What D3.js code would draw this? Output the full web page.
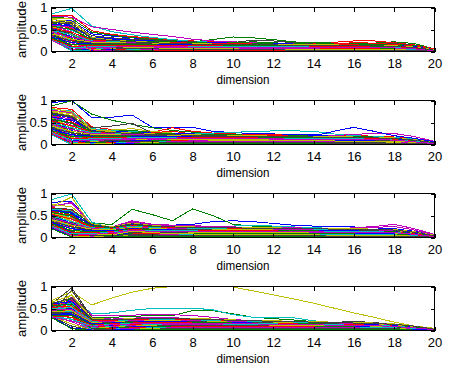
<!DOCTYPE html>
<html><head><meta charset="utf-8">
<script src="https://cdn.jsdelivr.net/npm/d3@7"></script>
<style>
body{margin:0;background:#fff}
svg text{font-family:"Liberation Sans",Arial,sans-serif;fill:#000}
</style>
</head><body>
<svg id="chart" width="452" height="368"></svg>
<script>
const dimensions=[1,2,3,4,5,6,7,8,9,10,11,12,13,14,15,16,17,18,19,20];
const xTicks=[2,4,6,8,10,12,14,16,18,20];
const yTicks=[0,0.5,1];
const yTickLabels=["0","0.5","1"];
const xLabel="dimension", yLabel="amplitude";
const colorOrder=["#0000ff","#008000","#ff0000","#00bfbf","#bf00bf","#bfbf00","#404040"];

const panel1=[
[.72,.70,.40,.35,.31,.27,.24,.21,.19,.18,.17,.16,.15,.14,.14,.13,.13,.12,.09,.04],
[.78,.75,.44,.37,.32,.28,.25,.22,.27,.33,.31,.27,.22,.19,.18,.18,.19,.22,.18,.06],
[.82,.82,.47,.39,.34,.30,.27,.24,.22,.21,.20,.19,.18,.19,.21,.24,.24,.20,.15,.06],
[.85,.98,.58,.45,.38,.32,.27,.23,.21,.19,.18,.17,.16,.15,.15,.14,.13,.12,.10,.05],
[.80,.78,.56,.50,.44,.39,.34,.28,.24,.22,.20,.19,.18,.17,.16,.16,.15,.14,.11,.05],
[.76,.74,.30,.28,.27,.25,.22,.20,.18,.17,.18,.16,.15,.14,.14,.13,.13,.12,.09,.04],
[.69,.66,.36,.31,.28,.26,.24,.22,.20,.20,.26,.24,.20,.17,.15,.16,.17,.18,.14,.05],
[.67,.60,.33,.29,.26,.24,.22,.20,.19,.18,.17,.16,.15,.14,.13,.12,.12,.11,.09,.03],
[.65,.56,.25,.26,.25,.22,.20,.19,.18,.20,.22,.20,.17,.21,.19,.16,.15,.16,.13,.05],
[.63,.52,.22,.24,.23,.22,.21,.20,.19,.18,.17,.16,.15,.14,.17,.20,.19,.16,.12,.05],
[.61,.48,.28,.22,.21,.20,.19,.18,.17,.17,.16,.15,.14,.14,.13,.13,.12,.12,.10,.04],
[.59,.45,.20,.21,.20,.19,.18,.17,.16,.15,.15,.16,.17,.16,.15,.14,.13,.13,.11,.04],
[.57,.40,.15,.18,.19,.18,.17,.16,.16,.15,.14,.14,.13,.13,.12,.12,.11,.11,.08,.03],
[.55,.37,.12,.16,.17,.17,.16,.15,.15,.14,.14,.13,.13,.12,.12,.12,.12,.11,.09,.03],
[.54,.33,.10,.13,.15,.16,.15,.15,.14,.13,.13,.12,.12,.11,.11,.10,.10,.10,.08,.03],
[.52,.30,.08,.12,.14,.15,.15,.14,.13,.13,.12,.12,.11,.11,.10,.10,.11,.12,.10,.04],
[.50,.27,.06,.10,.13,.14,.14,.13,.12,.12,.12,.11,.11,.10,.12,.14,.13,.11,.08,.03],
[.49,.24,.05,.08,.11,.13,.13,.12,.12,.11,.11,.10,.10,.10,.09,.09,.09,.08,.07,.03],
[.47,.20,.04,.07,.10,.12,.12,.11,.11,.10,.10,.10,.09,.09,.09,.09,.08,.08,.06,.02],
[.46,.16,.03,.06,.09,.10,.11,.10,.10,.10,.09,.09,.09,.08,.08,.08,.08,.07,.06,.02],
[.44,.12,.02,.05,.08,.09,.10,.10,.09,.09,.09,.08,.08,.08,.08,.07,.07,.07,.05,.02],
[.42,.09,.02,.04,.07,.08,.09,.09,.09,.08,.08,.08,.07,.07,.07,.07,.06,.06,.05,.02],
[.41,.06,.01,.03,.06,.07,.08,.08,.08,.08,.07,.07,.07,.07,.06,.06,.06,.06,.05,.02],
[.39,.04,.01,.03,.05,.06,.07,.08,.07,.07,.07,.07,.06,.06,.06,.06,.06,.05,.04,.02],
[.38,.02,.01,.02,.04,.05,.06,.07,.07,.06,.06,.06,.06,.06,.05,.05,.05,.05,.04,.01],
[.36,.01,.01,.02,.03,.04,.05,.06,.06,.06,.06,.05,.05,.05,.05,.05,.05,.04,.03,.01],
[.34,.01,.01,.01,.02,.03,.04,.05,.05,.05,.05,.05,.05,.04,.04,.04,.04,.04,.03,.01],
[.33,.01,0,.01,.02,.03,.03,.04,.04,.04,.04,.04,.04,.04,.04,.03,.03,.03,.02,.01],
[.31,.01,0,.01,.01,.02,.03,.03,.03,.03,.03,.03,.03,.03,.03,.03,.03,.03,.02,.01],
[.30,.01,0,0,.01,.02,.02,.02,.03,.03,.03,.03,.03,.02,.02,.02,.02,.02,.02,.01],
[.28,.01,0,0,.01,.01,.02,.02,.02,.02,.02,.02,.02,.02,.02,.02,.02,.02,.01,.01],
[.27,.01,0,0,0,.01,.01,.01,.01,.01,.01,.01,.01,.01,.01,.01,.01,.01,.01,0],
[.60,.55,.18,.14,.12,.10,.09,.08,.08,.07,.07,.06,.06,.06,.05,.05,.05,.04,.03,.01],
[.70,.62,.16,.11,.09,.08,.07,.06,.06,.06,.05,.05,.05,.05,.04,.04,.04,.04,.03,.01],
[.50,.42,.14,.09,.07,.06,.05,.05,.04,.04,.04,.04,.03,.03,.03,.03,.03,.03,.02,.01],
[.62,.58,.30,.27,.25,.23,.22,.21,.20,.19,.18,.18,.17,.17,.16,.16,.15,.14,.11,.04],
[.58,.50,.27,.25,.24,.23,.22,.20,.19,.18,.18,.17,.17,.16,.16,.15,.15,.14,.10,.04],
[.54,.44,.26,.24,.22,.21,.20,.19,.18,.18,.17,.17,.16,.16,.15,.15,.14,.13,.10,.04],
[.48,.38,.24,.22,.21,.20,.19,.18,.17,.17,.16,.16,.15,.15,.14,.14,.14,.13,.09,.03],
[.44,.32,.23,.21,.20,.19,.18,.17,.16,.16,.16,.15,.15,.14,.14,.13,.13,.12,.09,.03],
[.40,.28,.21,.20,.19,.18,.17,.16,.16,.15,.15,.15,.14,.14,.13,.13,.13,.12,.08,.03],
[.36,.24,.19,.18,.18,.17,.16,.16,.15,.15,.14,.14,.14,.13,.13,.12,.12,.11,.08,.03],
[.33,.20,.17,.17,.16,.16,.15,.15,.14,.14,.14,.13,.13,.13,.12,.12,.11,.11,.08,.03],
[.30,.16,.15,.15,.15,.15,.14,.14,.14,.13,.13,.13,.12,.12,.12,.11,.11,.10,.07,.02],
[.28,.12,.13,.14,.14,.13,.13,.13,.13,.12,.12,.12,.12,.11,.11,.11,.10,.10,.07,.02],
[.26,.08,.11,.12,.12,.12,.12,.12,.11,.11,.11,.11,.11,.10,.10,.10,.10,.09,.06,.02],
[.25,.05,.09,.10,.11,.11,.11,.10,.10,.10,.10,.10,.10,.09,.09,.09,.09,.08,.06,.02],
[.73,.68,.32,.26,.23,.21,.19,.18,.17,.17,.16,.16,.15,.15,.15,.14,.14,.13,.10,.04],
[.66,.63,.29,.25,.22,.20,.18,.17,.16,.16,.15,.15,.14,.14,.14,.13,.13,.12,.09,.03]
];
const panel2=[
[.95,1.0,.61,.62,.67,.39,.39,.39,.30,.27,.25,.24,.22,.22,.21,.20,.19,.17,.13,.06],
[.88,.99,.69,.55,.46,.38,.32,.28,.25,.22,.20,.19,.18,.17,.17,.16,.16,.15,.12,.06],
[.84,.80,.40,.34,.30,.28,.38,.30,.26,.24,.23,.22,.21,.20,.20,.20,.19,.17,.13,.06],
[.80,.76,.36,.32,.30,.27,.26,.25,.26,.28,.29,.31,.31,.30,.24,.20,.18,.16,.12,.05],
[.78,.72,.34,.30,.28,.26,.24,.23,.22,.21,.20,.19,.19,.18,.20,.23,.25,.25,.18,.07],
[.74,.66,.32,.33,.36,.30,.26,.24,.22,.21,.20,.19,.18,.17,.17,.16,.15,.14,.11,.05],
[.72,.64,.38,.42,.48,.26,.24,.22,.21,.20,.19,.18,.18,.17,.16,.16,.15,.14,.10,.05],
[.70,.60,.30,.28,.27,.25,.23,.22,.20,.19,.18,.17,.16,.19,.30,.39,.30,.20,.14,.06],
[.68,.56,.28,.30,.32,.27,.25,.23,.21,.20,.19,.18,.17,.16,.15,.15,.14,.13,.10,.04],
[.66,.52,.26,.25,.26,.27,.30,.24,.22,.21,.20,.19,.18,.17,.16,.15,.14,.13,.10,.04],
[.64,.48,.24,.22,.22,.21,.20,.19,.19,.18,.17,.16,.16,.15,.15,.14,.14,.13,.10,.04],
[.62,.44,.22,.21,.20,.20,.19,.18,.17,.17,.16,.16,.15,.15,.14,.14,.13,.12,.09,.04],
[.60,.40,.18,.20,.22,.21,.20,.19,.18,.17,.16,.15,.15,.14,.14,.13,.13,.12,.09,.03],
[.58,.36,.16,.18,.19,.18,.17,.17,.16,.16,.15,.15,.14,.14,.13,.13,.12,.11,.08,.03],
[.56,.32,.14,.16,.18,.17,.17,.16,.16,.15,.15,.14,.14,.13,.13,.12,.12,.11,.08,.03],
[.54,.28,.12,.14,.16,.16,.16,.15,.15,.15,.14,.14,.13,.13,.12,.12,.11,.10,.08,.03],
[.52,.25,.10,.13,.15,.15,.15,.15,.14,.14,.14,.13,.13,.12,.12,.11,.11,.10,.07,.03],
[.50,.22,.08,.11,.13,.14,.14,.14,.13,.13,.13,.12,.12,.12,.11,.11,.10,.09,.07,.03],
[.48,.19,.07,.10,.12,.13,.13,.13,.12,.12,.12,.11,.11,.11,.10,.10,.10,.09,.06,.02],
[.46,.16,.06,.08,.10,.11,.12,.12,.11,.11,.11,.10,.10,.10,.10,.09,.09,.08,.06,.02],
[.44,.13,.05,.07,.09,.10,.11,.11,.10,.10,.10,.10,.09,.09,.09,.09,.08,.08,.06,.02],
[.42,.10,.04,.06,.08,.09,.10,.10,.10,.09,.09,.09,.09,.08,.08,.08,.08,.07,.05,.02],
[.40,.08,.03,.05,.07,.08,.09,.09,.09,.09,.08,.08,.08,.08,.07,.07,.07,.07,.05,.02],
[.38,.06,.02,.04,.06,.07,.08,.08,.08,.08,.08,.07,.07,.07,.07,.07,.06,.06,.04,.02],
[.36,.04,.02,.03,.05,.06,.07,.07,.07,.07,.07,.07,.06,.06,.06,.06,.06,.05,.04,.01],
[.34,.03,.01,.02,.04,.05,.06,.06,.06,.06,.06,.06,.06,.05,.05,.05,.05,.05,.03,.01],
[.32,.02,.01,.02,.03,.04,.05,.05,.05,.05,.05,.05,.05,.05,.05,.04,.04,.04,.03,.01],
[.30,.01,.01,.01,.02,.03,.04,.04,.04,.04,.04,.04,.04,.04,.04,.04,.04,.03,.02,.01],
[.28,.01,0,.01,.02,.02,.03,.03,.03,.03,.03,.03,.03,.03,.03,.03,.03,.03,.02,.01],
[.26,.01,0,.01,.01,.02,.02,.02,.02,.02,.02,.02,.02,.02,.02,.02,.02,.02,.01,.01],
[.24,.01,0,0,.01,.01,.01,.01,.01,.01,.01,.01,.01,.01,.01,.01,.01,.01,.01,0],
[.22,0,0,0,0,.01,.01,.01,.01,.01,.01,.01,.01,.01,.01,.01,.01,.01,0,0],
[.65,.58,.20,.16,.14,.12,.11,.10,.09,.09,.08,.08,.08,.07,.07,.07,.06,.06,.05,.02],
[.76,.70,.24,.19,.16,.14,.12,.11,.10,.10,.09,.09,.08,.08,.08,.07,.07,.07,.05,.02],
[.57,.50,.12,.09,.07,.06,.05,.05,.05,.04,.04,.04,.04,.04,.03,.03,.03,.03,.02,.01],
[.62,.55,.32,.30,.28,.26,.25,.24,.23,.22,.21,.21,.20,.20,.19,.18,.17,.15,.11,.04],
[.58,.48,.30,.28,.27,.25,.24,.23,.22,.22,.21,.20,.20,.19,.18,.18,.17,.15,.11,.04],
[.54,.42,.28,.27,.26,.24,.23,.22,.21,.21,.20,.20,.19,.19,.18,.17,.16,.14,.10,.04],
[.50,.38,.27,.25,.24,.23,.22,.21,.20,.20,.19,.19,.18,.18,.17,.17,.16,.14,.10,.04],
[.46,.34,.25,.24,.23,.22,.21,.20,.19,.19,.19,.18,.18,.17,.17,.16,.15,.13,.09,.03],
[.42,.30,.23,.22,.21,.21,.20,.19,.19,.18,.18,.17,.17,.17,.16,.16,.15,.13,.09,.03],
[.38,.26,.21,.21,.20,.20,.19,.18,.18,.17,.17,.17,.16,.16,.16,.15,.14,.12,.08,.03],
[.35,.22,.19,.19,.19,.18,.18,.17,.17,.17,.16,.16,.16,.15,.15,.14,.14,.12,.08,.03],
[.32,.18,.17,.18,.17,.17,.17,.16,.16,.16,.15,.15,.15,.15,.14,.14,.13,.11,.08,.03],
[.29,.14,.15,.16,.16,.16,.16,.15,.15,.15,.15,.14,.14,.14,.14,.13,.13,.11,.07,.02],
[.27,.10,.13,.14,.15,.15,.15,.14,.14,.14,.14,.14,.13,.13,.13,.13,.12,.10,.07,.02],
[.25,.06,.11,.12,.13,.13,.13,.13,.13,.13,.13,.13,.12,.12,.12,.12,.11,.10,.06,.02],
[.82,.74,.34,.29,.26,.24,.23,.22,.21,.20,.20,.19,.19,.18,.18,.17,.16,.15,.11,.04],
[.71,.62,.31,.27,.25,.23,.22,.21,.20,.19,.19,.18,.18,.17,.17,.16,.15,.14,.10,.04]
];
const panel3=[
[.80,.82,.30,.22,.30,.26,.28,.30,.36,.38,.36,.32,.28,.26,.25,.24,.22,.20,.14,.06],
[.66,.60,.32,.30,.64,.52,.38,.65,.50,.30,.26,.24,.22,.20,.19,.18,.17,.16,.12,.05],
[.68,.62,.22,.20,.30,.25,.22,.24,.22,.21,.20,.20,.19,.18,.18,.17,.17,.16,.12,.05],
[.86,.99,.35,.20,.26,.24,.22,.22,.24,.26,.28,.26,.24,.22,.21,.20,.19,.18,.13,.05],
[.72,.78,.28,.24,.38,.30,.28,.27,.25,.24,.23,.22,.22,.21,.20,.22,.25,.30,.20,.07],
[.70,.92,.25,.18,.34,.28,.26,.25,.24,.23,.22,.21,.20,.20,.19,.18,.17,.16,.12,.05],
[.64,.58,.24,.19,.32,.27,.25,.24,.23,.22,.21,.21,.20,.19,.18,.17,.16,.15,.11,.05],
[.63,.55,.20,.17,.36,.28,.24,.23,.22,.21,.20,.19,.19,.18,.17,.17,.16,.15,.11,.04],
[.62,.52,.18,.16,.30,.26,.23,.22,.21,.20,.19,.19,.18,.17,.17,.16,.16,.15,.11,.04],
[.60,.48,.16,.15,.28,.24,.22,.21,.20,.19,.19,.18,.18,.17,.16,.16,.15,.14,.10,.04],
[.58,.45,.15,.14,.32,.25,.21,.20,.19,.19,.18,.18,.17,.17,.16,.15,.15,.14,.10,.04],
[.56,.42,.14,.13,.35,.24,.20,.19,.18,.18,.17,.17,.16,.16,.15,.15,.14,.13,.10,.04],
[.54,.38,.13,.12,.25,.22,.19,.18,.17,.17,.17,.16,.16,.15,.15,.14,.14,.13,.09,.03],
[.52,.35,.12,.11,.24,.21,.18,.17,.17,.16,.16,.15,.15,.15,.14,.14,.13,.12,.09,.03],
[.50,.32,.11,.10,.22,.20,.17,.16,.16,.16,.15,.15,.14,.14,.14,.13,.13,.12,.08,.03],
[.48,.29,.10,.09,.20,.18,.16,.15,.15,.15,.14,.14,.14,.13,.13,.13,.12,.11,.08,.03],
[.46,.26,.09,.08,.18,.17,.15,.14,.14,.14,.14,.13,.13,.13,.12,.12,.11,.11,.08,.03],
[.44,.23,.08,.07,.17,.16,.14,.13,.13,.13,.13,.13,.12,.12,.12,.11,.11,.10,.07,.03],
[.42,.20,.07,.07,.15,.14,.13,.12,.12,.12,.12,.12,.11,.11,.11,.11,.10,.10,.07,.02],
[.40,.17,.06,.06,.13,.13,.12,.11,.11,.11,.11,.11,.11,.10,.10,.10,.10,.09,.06,.02],
[.38,.14,.05,.05,.12,.12,.11,.10,.10,.10,.10,.10,.10,.10,.09,.09,.09,.08,.06,.02],
[.36,.11,.04,.05,.10,.10,.10,.09,.09,.09,.09,.09,.09,.09,.09,.08,.08,.08,.05,.02],
[.34,.08,.03,.04,.09,.09,.09,.08,.08,.08,.08,.08,.08,.08,.08,.08,.07,.07,.05,.02],
[.32,.06,.03,.03,.08,.08,.08,.07,.07,.07,.07,.07,.07,.07,.07,.07,.07,.06,.04,.02],
[.30,.04,.02,.03,.07,.07,.07,.06,.06,.06,.06,.06,.06,.06,.06,.06,.06,.06,.04,.01],
[.28,.03,.02,.02,.06,.06,.06,.05,.05,.05,.05,.05,.05,.05,.05,.05,.05,.05,.03,.01],
[.26,.02,.01,.02,.05,.05,.05,.05,.05,.05,.05,.05,.05,.05,.05,.04,.04,.04,.03,.01],
[.24,.01,.01,.01,.04,.04,.04,.04,.04,.04,.04,.04,.04,.04,.04,.04,.04,.03,.02,.01],
[.22,.01,.01,.01,.03,.03,.03,.03,.03,.03,.03,.03,.03,.03,.03,.03,.03,.03,.02,.01],
[.20,.01,0,.01,.02,.02,.02,.02,.02,.02,.02,.02,.02,.02,.02,.02,.02,.02,.01,.01],
[.58,.50,.20,.12,.26,.22,.20,.18,.17,.17,.16,.16,.15,.15,.14,.14,.13,.12,.09,.03],
[.65,.60,.26,.18,.33,.27,.24,.22,.21,.20,.20,.19,.18,.18,.17,.16,.15,.14,.10,.04],
[.70,.80,.30,.22,.36,.29,.26,.25,.24,.23,.23,.22,.21,.21,.20,.21,.23,.25,.17,.05],
[.55,.44,.10,.06,.14,.11,.09,.08,.07,.07,.07,.06,.06,.06,.05,.05,.05,.05,.03,.01],
[.45,.30,.04,.03,.08,.06,.05,.05,.05,.04,.04,.04,.04,.04,.03,.03,.03,.03,.02,.01],
[.62,.56,.28,.22,.30,.25,.24,.23,.22,.22,.21,.21,.20,.20,.19,.19,.18,.17,.12,.04],
[.57,.48,.26,.21,.28,.24,.23,.22,.21,.21,.20,.20,.19,.19,.18,.18,.17,.16,.12,.04],
[.53,.42,.24,.20,.27,.23,.22,.21,.20,.20,.20,.19,.19,.18,.18,.17,.17,.16,.11,.04],
[.49,.36,.22,.19,.26,.22,.21,.20,.20,.19,.19,.19,.18,.18,.17,.17,.16,.15,.11,.04],
[.45,.32,.20,.18,.24,.21,.20,.19,.19,.19,.18,.18,.18,.17,.17,.16,.16,.15,.10,.03],
[.41,.28,.19,.17,.23,.20,.19,.19,.18,.18,.18,.17,.17,.17,.16,.16,.15,.14,.10,.03],
[.37,.24,.17,.16,.21,.19,.18,.18,.17,.17,.17,.17,.16,.16,.16,.15,.15,.14,.09,.03],
[.34,.20,.15,.15,.20,.18,.17,.17,.17,.16,.16,.16,.16,.15,.15,.15,.14,.13,.09,.03],
[.31,.16,.13,.14,.19,.17,.17,.16,.16,.16,.16,.15,.15,.15,.14,.14,.14,.13,.08,.03],
[.28,.12,.11,.13,.18,.16,.16,.15,.15,.15,.15,.15,.14,.14,.14,.14,.13,.12,.08,.02],
[.26,.08,.09,.12,.17,.15,.15,.15,.14,.14,.14,.14,.14,.13,.13,.13,.13,.12,.07,.02],
[.24,.05,.07,.11,.16,.14,.14,.14,.14,.13,.13,.13,.13,.13,.12,.12,.12,.11,.07,.02],
[.75,.70,.31,.24,.33,.27,.25,.24,.23,.23,.22,.22,.21,.21,.20,.20,.19,.18,.13,.05],
[.67,.64,.29,.23,.31,.26,.24,.23,.22,.22,.21,.21,.20,.20,.19,.19,.18,.17,.12,.04]
];
const panel4=[
[.62,.70,.20,.22,.26,.28,.28,.26,.24,.22,.20,.18,.17,.16,.15,.14,.13,.12,.08,.03],
[.58,.72,.30,.30,.32,.34,.34,.45,.45,.38,.30,.27,.24,.20,.17,.15,.14,.12,.08,.03],
[.56,.66,.18,.20,.25,.27,.26,.25,.24,.22,.21,.20,.19,.18,.17,.16,.15,.13,.09,.03],
[.55,.75,.38,.40,.46,.50,.50,.51,.47,.36,.30,.30,.29,.22,.18,.16,.14,.12,.08,.03],
[.52,.76,.35,.35,.35,.36,.36,.34,.30,.25,.22,.20,.18,.17,.16,.15,.14,.13,.09,.03],
[.68,.88,.58,.74,.87,.96,1.0,1.0,1.0,.99,.90,.81,.72,.62,.51,.40,.30,.19,.10,.05],
[.60,.97,.30,.22,.25,.26,.26,.25,.24,.23,.22,.21,.20,.19,.18,.21,.18,.14,.10,.03],
[.54,.64,.16,.18,.22,.24,.24,.23,.22,.20,.19,.18,.17,.16,.15,.14,.13,.12,.08,.03],
[.50,.62,.15,.17,.20,.22,.22,.21,.20,.19,.18,.17,.16,.15,.15,.14,.13,.12,.08,.03],
[.53,.60,.14,.18,.24,.25,.25,.24,.23,.21,.20,.19,.18,.17,.16,.16,.15,.13,.09,.03],
[.48,.58,.13,.15,.18,.20,.21,.20,.19,.18,.17,.16,.15,.15,.14,.13,.12,.11,.08,.02],
[.47,.56,.12,.14,.17,.19,.20,.19,.18,.17,.16,.15,.15,.14,.14,.13,.12,.11,.07,.02],
[.46,.54,.11,.13,.16,.18,.19,.18,.17,.16,.16,.15,.14,.14,.13,.12,.12,.11,.07,.02],
[.45,.52,.10,.12,.15,.17,.18,.18,.17,.16,.15,.14,.14,.13,.13,.12,.11,.10,.07,.02],
[.44,.50,.09,.11,.14,.16,.17,.17,.16,.15,.14,.14,.13,.13,.12,.12,.11,.10,.07,.02],
[.43,.48,.08,.10,.13,.15,.16,.16,.15,.14,.14,.13,.13,.12,.12,.11,.11,.10,.06,.02],
[.42,.46,.07,.10,.13,.14,.15,.15,.15,.14,.13,.13,.12,.12,.11,.11,.10,.09,.06,.02],
[.41,.44,.06,.09,.12,.13,.14,.14,.14,.13,.13,.12,.12,.11,.11,.10,.10,.09,.06,.02],
[.40,.42,.05,.08,.11,.12,.13,.13,.13,.12,.12,.12,.11,.11,.10,.10,.09,.09,.06,.02],
[.39,.40,.05,.07,.10,.11,.12,.12,.12,.12,.11,.11,.11,.10,.10,.09,.09,.08,.05,.02],
[.38,.38,.04,.06,.09,.10,.11,.11,.11,.11,.11,.10,.10,.10,.09,.09,.08,.08,.05,.02],
[.37,.36,.03,.05,.08,.09,.10,.10,.10,.10,.10,.10,.09,.09,.09,.08,.08,.07,.05,.01],
[.36,.34,.03,.05,.07,.08,.09,.09,.09,.09,.09,.09,.09,.08,.08,.08,.07,.07,.04,.01],
[.35,.30,.02,.04,.06,.07,.08,.08,.08,.08,.08,.08,.08,.08,.07,.07,.07,.06,.04,.01],
[.34,.25,.02,.03,.05,.06,.07,.07,.07,.07,.07,.07,.07,.07,.07,.06,.06,.06,.04,.01],
[.33,.20,.01,.03,.04,.05,.06,.06,.06,.06,.06,.06,.06,.06,.06,.06,.05,.05,.03,.01],
[.32,.15,.01,.02,.03,.04,.05,.05,.05,.05,.05,.05,.05,.05,.05,.05,.05,.04,.03,.01],
[.31,.10,.01,.02,.03,.03,.04,.04,.04,.04,.04,.04,.04,.04,.04,.04,.04,.04,.02,.01],
[.30,.06,.01,.01,.02,.03,.03,.03,.03,.03,.03,.03,.03,.03,.03,.03,.03,.03,.02,.01],
[.29,.04,0,.01,.01,.02,.02,.02,.02,.02,.02,.02,.02,.02,.02,.02,.02,.02,.01,.01],
[.57,.68,.22,.24,.27,.28,.27,.26,.25,.24,.22,.21,.20,.19,.18,.17,.16,.14,.10,.03],
[.51,.63,.19,.21,.24,.25,.25,.24,.22,.21,.20,.19,.18,.17,.16,.15,.14,.12,.08,.02],
[.49,.70,.28,.26,.28,.30,.29,.27,.25,.23,.21,.20,.19,.18,.17,.16,.15,.14,.10,.03],
[.45,.82,.20,.16,.18,.19,.19,.18,.17,.16,.15,.14,.13,.12,.12,.11,.10,.09,.06,.02],
[.40,.92,.25,.18,.20,.21,.21,.20,.19,.18,.17,.17,.16,.16,.17,.20,.16,.12,.08,.02],
[.60,.66,.26,.24,.26,.27,.27,.26,.25,.24,.22,.21,.20,.19,.18,.17,.16,.14,.10,.03],
[.56,.60,.24,.23,.25,.26,.26,.25,.24,.23,.21,.20,.19,.18,.17,.16,.15,.14,.09,.03],
[.52,.56,.22,.22,.24,.25,.25,.24,.23,.22,.21,.20,.19,.18,.17,.16,.15,.13,.09,.03],
[.49,.52,.21,.21,.23,.24,.24,.23,.22,.21,.20,.19,.18,.17,.16,.15,.14,.13,.09,.03],
[.46,.48,.19,.20,.22,.23,.23,.22,.21,.20,.19,.18,.17,.17,.16,.15,.14,.12,.08,.02],
[.43,.45,.18,.19,.21,.22,.22,.21,.20,.19,.18,.18,.17,.16,.15,.14,.13,.12,.08,.02],
[.40,.42,.16,.18,.20,.21,.21,.20,.19,.18,.18,.17,.16,.16,.15,.14,.13,.11,.07,.02],
[.37,.38,.15,.17,.19,.20,.20,.19,.18,.18,.17,.16,.16,.15,.14,.14,.13,.11,.07,.02],
[.35,.34,.13,.16,.18,.19,.19,.18,.18,.17,.16,.16,.15,.15,.14,.13,.12,.10,.07,.02],
[.33,.30,.12,.15,.17,.18,.18,.17,.17,.16,.16,.15,.15,.14,.13,.13,.12,.10,.06,.02],
[.31,.26,.10,.14,.16,.17,.17,.17,.16,.16,.15,.15,.14,.14,.13,.12,.11,.10,.06,.02],
[.30,.22,.09,.13,.15,.16,.16,.16,.15,.15,.15,.14,.14,.13,.12,.12,.11,.09,.06,.02],
[.64,.80,.28,.25,.27,.28,.28,.27,.26,.24,.23,.22,.21,.20,.19,.18,.17,.15,.10,.03],
[.61,.74,.26,.24,.26,.27,.27,.26,.25,.23,.22,.21,.20,.19,.18,.17,.16,.14,.10,.03]
];
const panels=[panel1,panel2,panel3,panel4];

// layout
const svg=d3.select("#chart");
const left=51.5, right=434.5, plotH=44;
const tops=[7.5,100.5,193.5,286.5];
const x=d3.scaleLinear().domain([1,20]).range([left,right]);

panels.forEach((series,pi)=>{
  const top=tops[pi], bottom=top+plotH;
  const y=d3.scaleLinear().domain([0,1]).range([bottom,top]);
  const g=svg.append("g");
  const line=d3.line().x((d,j)=>x(dimensions[j])).y(d=>y(d));
  g.selectAll("path.s").data(series).join("path")
    .attr("class","s").attr("d",line).attr("fill","none")
    .attr("stroke",(d,i)=>colorOrder[i%colorOrder.length])
    .attr("stroke-width",1).attr("shape-rendering","crispEdges");

  const ax=(sel)=>{sel.selectAll(".domain").remove();
    sel.selectAll("line").attr("stroke","#000").attr("shape-rendering","crispEdges");
    sel.selectAll("text").attr("font-size",13).attr("font-family","'Liberation Sans',Arial,sans-serif");};
  g.append("g").attr("transform",`translate(0,${bottom})`)
    .call(d3.axisBottom(x).tickValues(xTicks).tickSize(-4).tickPadding(7).tickFormat(d3.format("d"))).call(ax);
  g.append("g").attr("transform",`translate(0,${top})`)
    .call(d3.axisTop(x).tickValues(xTicks).tickSize(-4).tickFormat("")).call(ax);
  g.append("g").attr("transform",`translate(${left},0)`)
    .call(d3.axisLeft(y).tickValues(yTicks).tickSize(-4).tickPadding(4).tickFormat((d,i)=>yTickLabels[i])).call(ax);
  g.append("g").attr("transform",`translate(${right},0)`)
    .call(d3.axisRight(y).tickValues(yTicks).tickSize(-4).tickFormat("")).call(ax);
  g.append("rect").attr("x",left).attr("y",top).attr("width",right-left).attr("height",plotH)
    .attr("fill","none").attr("stroke","#000").attr("shape-rendering","crispEdges");
  g.append("text").attr("x",(left+right)/2).attr("y",bottom+32.5).attr("text-anchor","middle")
    .attr("font-size",13).attr("textLength",53).attr("lengthAdjust","spacingAndGlyphs").text(xLabel);
  g.append("text").attr("transform",`translate(26,${(top+bottom)/2}) rotate(-90)`).attr("text-anchor","middle")
    .attr("font-size",13).attr("textLength",57).attr("lengthAdjust","spacingAndGlyphs").text(yLabel);
});
</script>
</body></html>
